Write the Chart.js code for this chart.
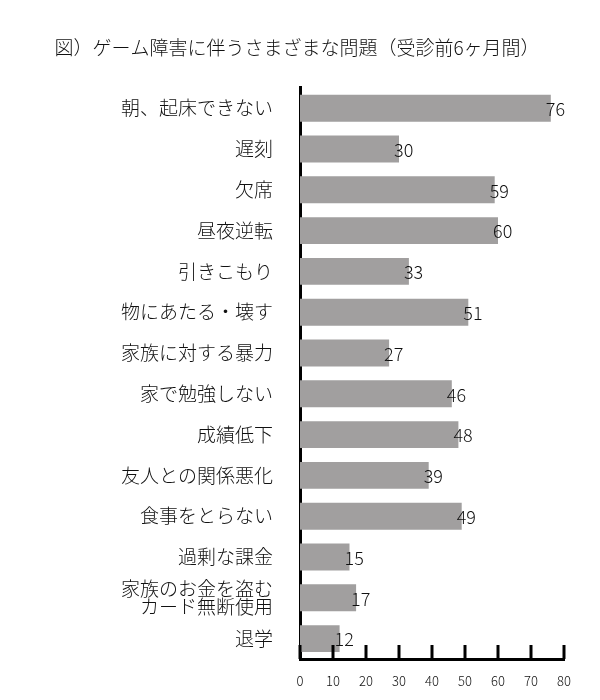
<!DOCTYPE html>
<html>
<head>
<meta charset="utf-8">
<script src="https://cdn.jsdelivr.net/npm/chart.js@4/dist/chart.umd.min.js"></script>
<style>
  html, body { margin: 0; padding: 0; background: #fff; }
  #wrap { width: 600px; height: 700px; }
</style>
</head>
<body>
<div id="wrap"><canvas id="myChart"></canvas></div>
<script>
const problemLabels = [
    '朝、起床できない',
    '遅刻',
    '欠席',
    '昼夜逆転',
    '引きこもり',
    '物にあたる・壊す',
    '家族に対する暴力',
    '家で勉強しない',
    '成績低下',
    '友人との関係悪化',
    '食事をとらない',
    '過剰な課金',
    ['家族のお金を盗む', 'カード無断使用'],
    '退学'
]
const problemCounts = [76, 30, 59, 60, 33, 51, 27, 46, 48, 39, 49, 15, 17, 12]
const xTicks = [0, 10, 20, 30, 40, 50, 60, 70, 80]

const jpFont = '"Noto Sans CJK JP", "Noto Sans", sans-serif'

// value labels at the end of each bar
const valueLabels = {
    id: 'valueLabels',
    afterDatasetsDraw(chart) {
        const ctx = chart.ctx
        const meta = chart.getDatasetMeta(0)
        ctx.save()
        ctx.font = '300 18px ' + jpFont
        ctx.fillStyle = '#111'
        ctx.textAlign = 'left'
        ctx.textBaseline = 'middle'
        meta.data.forEach((bar, i) => {
            ctx.fillText(problemCounts[i], bar.x - 5, bar.y + 1)
        })
        ctx.restore()
    }
}

// short tick marks pointing up from the x axis
const innerTicks = {
    id: 'innerTicks',
    afterDraw(chart) {
        const ctx = chart.ctx
        const x = chart.scales.x
        const bottom = chart.chartArea.bottom
        ctx.save()
        ctx.strokeStyle = '#000'
        ctx.lineWidth = 3
        xTicks.forEach(v => {
            const px = x.getPixelForValue(v)
            ctx.beginPath()
            ctx.moveTo(px, bottom)
            ctx.lineTo(px, bottom - 14)
            ctx.stroke()
        })
        ctx.restore()
    }
}

new Chart(document.getElementById('myChart'), {
    type: 'bar',
    data: {
        labels: problemLabels,
        datasets: [{
            data: problemCounts,
            backgroundColor: '#a19f9f',
            borderWidth: 0,
            barPercentage: 0.66,
            categoryPercentage: 1
        }]
    },
    options: {
        indexAxis: 'y',
        responsive: true,
        maintainAspectRatio: false,
        animation: false,
        layout: { padding: { left: 30, right: 36, top: 0, bottom: 0 } },
        plugins: {
            legend: { display: false },
            tooltip: { enabled: false },
            title: {
                display: true,
                text: '図）ゲーム障害に伴うさまざまな問題（受診前6ヶ月間）',
                color: '#111',
                font: { family: jpFont, size: 19, weight: 300, lineHeight: 1.2 },
                padding: { top: 36, bottom: 29 }
            }
        },
        scales: {
            x: {
                min: 0,
                max: 80,
                afterBuildTicks(scale) {
                    scale.ticks = xTicks.map(v => ({ value: v }))
                },
                afterFit(scale) { scale.height = 41 },
                grid: { display: false },
                border: { display: true, color: '#000', width: 3 },
                ticks: {
                    padding: 6,
                    color: '#111',
                    font: { family: jpFont, size: 13, weight: 300 }
                }
            },
            y: {
                afterFit(scale) { scale.width = 270 },
                grid: { display: false, drawTicks: false },
                border: { display: true, color: '#000', width: 3 },
                ticks: {
                    padding: 27,
                    color: '#111',
                    autoSkip: false,
                    font: { family: jpFont, size: 19, weight: 300, lineHeight: 0.95 }
                }
            }
        }
    },
    plugins: [valueLabels, innerTicks]
})
</script>
</body>
</html>
